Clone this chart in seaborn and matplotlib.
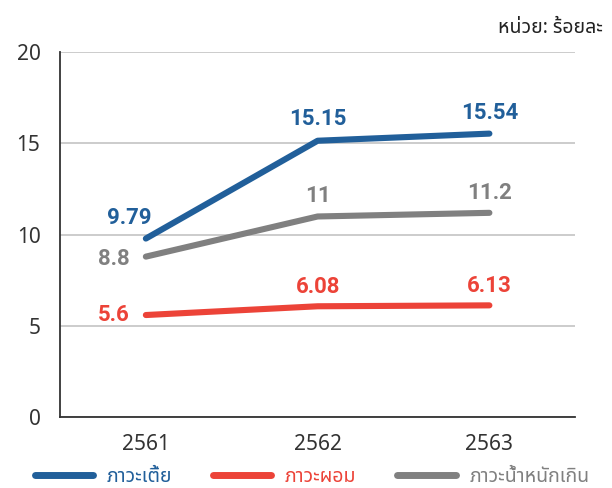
import matplotlib
matplotlib.use("Agg")
import matplotlib.pyplot as plt
from matplotlib import font_manager
from matplotlib.ft2font import FT2Font
from matplotlib.lines import Line2D
import seaborn as sns
import pandas as pd

years = ["2561", "2562", "2563"]
stunting = [9.79, 15.15, 15.54]
wasting = [5.6, 6.08, 6.13]
overweight = [8.8, 11.0, 11.2]
series_names = ["ภาวะเตี้ย", "ภาวะผอม", "ภาวะน้ำหนักเกิน"]
label_texts = [["9.79", "15.15", "15.54"], ["5.6", "6.08", "6.13"], ["8.8", "11", "11.2"]]
colors = ["#215f9a", "#ec4338", "#808080"]


def find_thai_font():
    # prefer an upright sans family that has Thai glyphs
    preferred = ["Noto Sans Thai", "Noto Sans Thai Looped", "Sarabun", "Kanit",
                 "Prompt", "Tlwg Typist", "Loma", "Garuda", "Waree", "Umpush"]
    found = {}
    for f in font_manager.fontManager.ttflist:
        if f.style != "normal":
            continue
        try:
            if ord("ภ") in FT2Font(f.fname).get_charmap():
                found.setdefault(f.name, f)
        except Exception:
            pass
    for name in preferred:
        if name in found:
            return name
    return next(iter(found), None)


sns.set_style("white")
thai = find_thai_font()
fams = ["Noto Sans"] + ([thai] if thai else []) + ["DejaVu Sans"]
plt.rcParams["font.family"] = fams

df = pd.DataFrame({
    "year": years * 3,
    "value": stunting + wasting + overweight,
    "group": [series_names[0]] * 3 + [series_names[1]] * 3 + [series_names[2]] * 3,
})
df["x"] = [0, 1, 2] * 3

fig, ax = plt.subplots(figsize=(6.12, 4.88), dpi=100)
fig.subplots_adjust(left=0.098, right=0.94, top=0.893, bottom=0.145)

sns.lineplot(data=df, x="x", y="value", hue="group", hue_order=series_names,
             palette=colors, linewidth=4.4, legend=False, ax=ax,
             solid_capstyle="round")

ax.set_xlim(-0.5, 2.5)
ax.set_ylim(0, 20)
ax.set_yticks([0, 5, 10, 15, 20])
ax.set_xticks([-0.5, 0, 1, 2])
ax.set_xticklabels(["", *years])
ax.yaxis.grid(True, color="#c8c8c8", linewidth=1.3)
ax.set_axisbelow(True)
for s in ["top", "right"]:
    ax.spines[s].set_visible(False)
for s in ["left", "bottom"]:
    ax.spines[s].set_color("#333333")
    ax.spines[s].set_linewidth(1.3)
ax.tick_params(axis="both", colors="#333333", length=6, width=1.3,
               labelsize=15, direction="out")
ax.tick_params(axis="y", pad=8)
ax.tick_params(axis="x", pad=6)
ax.set_xlabel("")
ax.set_ylabel("")

vals = [stunting, wasting, overweight]
offsets = [
    [(-12, 15), (0, 16), (0, 15)],
    [(-23, 0), (0, 14), (0, 14)],
    [(-23, -2), (0, 15), (0, 14)],
]
for k in range(3):
    for i in range(3):
        dx, dy = offsets[k][i]
        ax.annotate(label_texts[k][i], (i, vals[k][i]), xytext=(dx, dy),
                    textcoords="offset points", ha="center", va="center",
                    color=colors[k], fontsize=16, fontweight="bold",
                    family=["Roboto", "DejaVu Sans"])

fig.text(0.985, 0.943, "หน่วย: ร้อยละ", ha="right", va="center",
         fontsize=14, color="#222222")

handles = [Line2D([0], [0], color=c, linewidth=5, solid_capstyle="round")
           for c in colors]
leg = fig.legend(handles, series_names, loc="center", ncol=3,
                 bbox_to_anchor=(0.51, 0.023), frameon=False, fontsize=14,
                 handlelength=3.0, columnspacing=2.1, handletextpad=0.7)
for t, c in zip(leg.get_texts(), colors):
    t.set_color(c)

fig.savefig("out.png", dpi=100)
